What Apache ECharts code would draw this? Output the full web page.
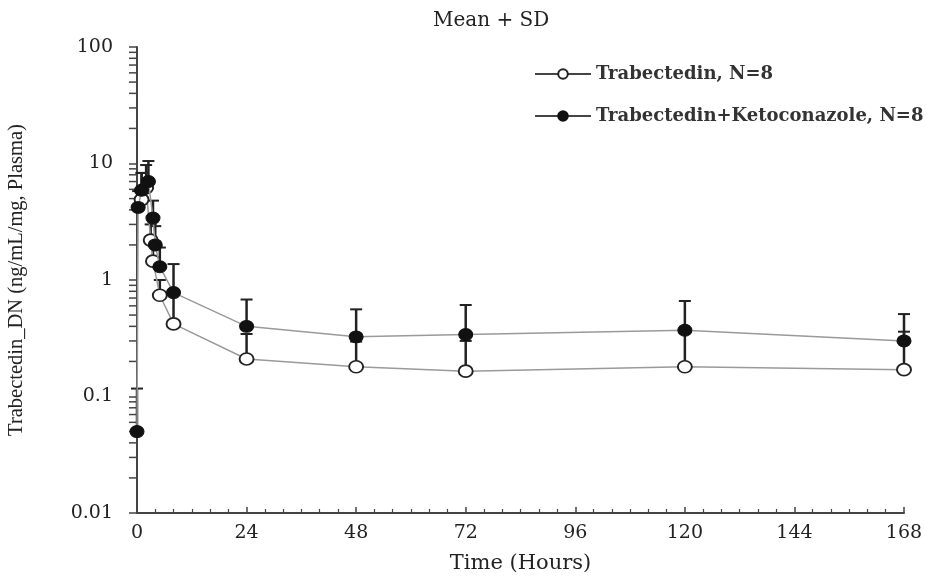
<!DOCTYPE html>
<html>
<head>
<meta charset="utf-8">
<script src="https://cdn.jsdelivr.net/npm/echarts@6/dist/echarts.min.js"></script>
<style>
  html, body { margin: 0; padding: 0; background: #ffffff; }
  #chart { width: 926px; height: 578px; }
</style>
</head>
<body>
<div id="chart"></div>
<script>
// Plasma concentration-time profile, mean + SD, log scale
const chartTitle = 'Mean + SD';
const xAxisName = 'Time (Hours)';
const yAxisName = 'Trabectedin_DN (ng/mL/mg, Plasma)';
const seriesNames = ['Trabectedin, N=8', 'Trabectedin+Ketoconazole, N=8'];

// Trabectedin alone
const trabTime = [1, 2, 3, 3.5, 5, 8, 24, 48, 72, 120, 168];
const trabMean = [4.9, 6.2, 2.2, 1.45, 0.74, 0.42, 0.21, 0.18, 0.165, 0.18, 0.17];
const trabSD   = [3.4, 3.5, 0.8, 0.55, 0.26, 0.33, 0.134, 0.116, 0.135, 0.17, 0.19];

// Trabectedin + ketoconazole
const ketoTime = [0, 0.25, 1, 2.5, 3.5, 4, 5, 8, 24, 48, 72, 120, 168];
const ketoMean = [0.05, 4.2, 5.9, 7.0, 3.4, 2.0, 1.3, 0.78, 0.40, 0.325, 0.34, 0.37, 0.30];
const ketoSD   = [0.067, 1.6, 2.4, 3.5, 1.4, 0.9, 0.6, 0.59, 0.28, 0.235, 0.27, 0.29, 0.21];

// Log-axis minor tick positions: 2..9 within each decade
const minorMantissas = [2, 3, 4, 5, 6, 7, 8, 9];
const decades = [0.01, 0.1, 1, 10];

const serifWide = 'DejaVu Serif';
const serifNarrow = 'Liberation Serif';
const ink = '#222';

const minorTickValues = [];
decades.forEach(d => minorMantissas.forEach(m => minorTickValues.push([0, +(d * m).toPrecision(3)])));

function pairs(xs, ys) { return xs.map((x, i) => [x, ys[i]]); }

// Upper error bar (mean to mean + SD) with a cap
function errorBars(times, means, sds, z) {
  return {
    type: 'custom',
    silent: true,
    z: z,
    data: times.map((t, i) => [t, means[i], means[i] + sds[i]]),
    encode: { x: 0, y: 1 },
    renderItem: function (params, api) {
      const base = api.coord([api.value(0), api.value(1)]);
      const top = api.coord([api.value(0), api.value(2)]);
      const half = 6;
      return {
        type: 'group',
        children: [
          { type: 'line', shape: { x1: base[0], y1: base[1], x2: top[0], y2: top[1] },
            style: { stroke: ink, lineWidth: 2.5 } },
          { type: 'line', shape: { x1: top[0] - half, y1: top[1], x2: top[0] + half, y2: top[1] },
            style: { stroke: ink, lineWidth: 2 } }
        ]
      };
    }
  };
}

const chart = echarts.init(document.getElementById('chart'));
chart.setOption({
  animation: false,
  backgroundColor: '#ffffff',
  title: {
    text: chartTitle,
    left: 428,
    top: 6,
    textStyle: { fontFamily: serifWide, fontWeight: 'normal', fontSize: 20, color: ink }
  },
  legend: {
    data: seriesNames,
    orient: 'vertical',
    left: 529,
    top: 60,
    itemWidth: 56,
    itemHeight: 12,
    itemGap: 24,
    lineStyle: { color: '#444' },
    textStyle: { fontFamily: serifWide, fontWeight: 'bold', fontSize: 18, color: '#333' }
  },
  grid: { left: 137, right: 22, top: 47, bottom: 65, containLabel: false, outerBoundsMode: 'none' },
  xAxis: {
    type: 'value',
    min: 0,
    max: 168,
    interval: 24,
    name: xAxisName,
    nameLocation: 'middle',
    nameGap: 40,
    nameTextStyle: { fontFamily: serifWide, fontSize: 21, color: ink },
    axisLine: { show: true, onZero: false, lineStyle: { color: '#444', width: 2 } },
    axisTick: { show: true, inside: true, length: 6, lineStyle: { color: '#444', width: 1.5 } },
    minorTick: { show: true, splitNumber: 6, length: 4, lineStyle: { color: '#444', width: 1.2 } },
    axisLabel: { fontFamily: serifWide, fontSize: 19, color: ink, margin: 11 },
    splitLine: { show: false }
  },
  yAxis: {
    type: 'log',
    logBase: 10,
    min: 0.01,
    max: 100,
    name: yAxisName,
    nameLocation: 'middle',
    nameGap: 110,
    nameRotate: 90,
    nameTextStyle: { fontFamily: serifNarrow, fontSize: 20.5, color: ink },
    axisLine: { show: true, lineStyle: { color: '#444', width: 2 } },
    axisTick: { show: true, inside: false, length: 8, lineStyle: { color: '#444', width: 1.5 } },
    axisLabel: { fontFamily: serifWide, fontSize: 19, color: ink, margin: 24 },
    splitLine: { show: false }
  },
  series: [
    {
      type: 'custom',
      silent: true,
      clip: false,
      z: 1,
      data: minorTickValues,
      renderItem: function (params, api) {
        const p = api.coord([0, api.value(1)]);
        return { type: 'line', shape: { x1: p[0] - 8, y1: p[1], x2: p[0], y2: p[1] },
                 style: { stroke: '#444', lineWidth: 1.5 } };
      }
    },
    errorBars(trabTime, trabMean, trabSD, 3),
    errorBars(ketoTime, ketoMean, ketoSD, 3),
    {
      name: seriesNames[0],
      type: 'line',
      data: pairs(trabTime, trabMean),
      symbol: 'circle',
      symbolSize: [14, 12],
      z: 5,
      lineStyle: { color: '#9a9a9a', width: 1.5 },
      itemStyle: { color: '#ffffff', borderColor: ink, borderWidth: 1.8 }
    },
    {
      name: seriesNames[1],
      type: 'line',
      data: pairs(ketoTime, ketoMean),
      symbol: 'circle',
      symbolSize: [14, 12],
      z: 6,
      lineStyle: { color: '#9a9a9a', width: 1.5 },
      itemStyle: { color: '#111111', borderColor: '#111111', borderWidth: 1 }
    }
  ]
});
</script>
</body>
</html>
